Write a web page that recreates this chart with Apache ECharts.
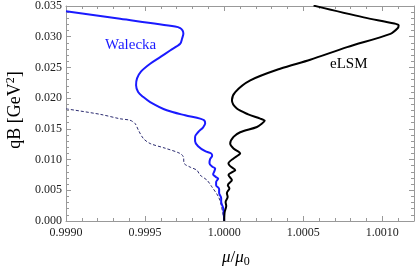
<!DOCTYPE html>
<html><head><meta charset="utf-8">
<script src="https://cdn.jsdelivr.net/npm/echarts@6/dist/echarts.min.js"></script>
<style>html,body{margin:0;padding:0;background:#fff}#c{width:415px;height:267px}</style>
</head><body><div id="c"></div>
<script>
// Walecka (solid blue): [mu/mu0, qB]
const waleckaMu = [0.99900,0.999342,0.999690,0.999722,0.999737,0.999742,0.999734,0.999722,0.999658,0.999595,0.999532,0.999475,0.999449,0.999443,0.999456,0.999487,0.999532,0.999637,0.999753,0.999848,0.999873,0.999880,0.999867,0.999835,0.999816,0.999816,0.999835,0.999880,0.999918,0.999924,0.999911,0.999907,0.999924,0.999943,0.999937,0.999930,0.999949,0.999962,0.999949,0.999949,0.999968,0.999968,0.999981,0.999981,0.999994,1.0];
const waleckaQB = [0.03414,0.03292,0.03166,0.03141,0.03101,0.03047,0.02971,0.02885,0.02776,0.02667,0.02560,0.02435,0.02321,0.02208,0.02099,0.02021,0.01937,0.01802,0.01721,0.01667,0.01640,0.01591,0.01526,0.01445,0.01369,0.01299,0.01218,0.01136,0.01099,0.01063,0.01006,0.00942,0.00885,0.00856,0.00804,0.00763,0.00714,0.00690,0.00633,0.00584,0.00519,0.00455,0.00373,0.00308,0.00211,0];
// eLSM (solid black)
const elsmMu = [1.000565,1.000882,1.001076,1.001103,1.001095,1.001051,1.000777,1.000544,1.000354,1.000165,1.000070,1.000049,1.000080,1.000152,1.000228,1.000256,1.000241,1.000207,1.000101,1.000059,1.000038,1.000059,1.000101,1.000089,1.000059,1.000027,1.000038,1.000070,1.000051,1.000027,1.000049,1.000023,1.000033,1.000017,1.000022,1.000009,1.000013,1.000003,1.0];
const elsmQB = [0.03506,0.03315,0.03214,0.03182,0.03133,0.03047,0.02830,0.02625,0.02479,0.02289,0.02099,0.01964,0.01830,0.01737,0.01667,0.01631,0.01591,0.01531,0.01445,0.01369,0.01261,0.01180,0.01099,0.01071,0.01018,0.00937,0.00893,0.00828,0.00795,0.00747,0.00666,0.00584,0.00531,0.00455,0.00390,0.00308,0.00244,0.00146,0];
// dashed curve
const dashMu = [0.99900,0.999215,0.999342,0.999405,0.999437,0.999458,0.999489,0.999532,0.999627,0.999722,0.999742,0.999747,0.999785,0.999827,0.999848,0.999891,0.999922,0.999964,0.999981,1.0];
const dashQB = [0.01826,0.01737,0.01664,0.01640,0.01586,0.01477,0.01343,0.01261,0.01185,0.01099,0.01044,0.00937,0.00877,0.00828,0.00747,0.00666,0.00557,0.00394,0.00260,0];
const xTicks = {min:0.9990, max:1.0012, interval:0.0005};
const yTicks = {min:0, max:0.035, interval:0.005};

const zip = (a,b)=>a.map((v,i)=>[v,b[i]]);
const serif = '"Liberation Serif","DejaVu Serif",serif';
const frame = '#999';
function xAx(pos, labels){
  return {type:'value', position:pos, min:xTicks.min, max:xTicks.max, interval:xTicks.interval,
    axisLine:{show:true,onZero:false,lineStyle:{color:frame,width:1}},
    axisTick:{show:true,inside:true,length:5,lineStyle:{color:frame}},
    minorTick:{show:true,splitNumber:5,length:3,lineStyle:{color:frame}},
    splitLine:{show:false},
    axisLabel:{show:labels,showMaxLabel:false,margin:6,color:'#222',fontFamily:serif,fontSize:12,
      formatter:v=>v.toFixed(4)}};
}
function yAx(pos, labels){
  return {type:'value', position:pos, min:yTicks.min, max:yTicks.max, interval:yTicks.interval,
    axisLine:{show:true,onZero:false,lineStyle:{color:frame,width:1}},
    axisTick:{show:true,inside:true,length:5,lineStyle:{color:frame}},
    minorTick:{show:true,splitNumber:5,length:3,lineStyle:{color:frame}},
    splitLine:{show:false},
    axisLabel:{show:labels,margin:4,color:'#222',fontFamily:serif,fontSize:12,
      formatter:v=>v.toFixed(3)}};
}
const chart = echarts.init(document.getElementById('c'),null,{renderer:'canvas'});
chart.setOption({
  animation:false,
  grid:{left:66,right:1,top:5,bottom:46,containLabel:false},
  xAxis:[xAx('bottom',true), xAx('top',false)],
  yAxis:[yAx('left',true), yAx('right',false)],
  series:[
    {type:'line',name:'dashed',data:zip(dashMu,dashQB),showSymbol:false,smooth:0.3,
      lineStyle:{color:'#2b2b70',width:1,type:[3,2]}},
    {type:'line',name:'Walecka',data:zip(waleckaMu,waleckaQB),showSymbol:false,smooth:0.3,
      lineStyle:{color:'#1a1aff',width:2}},
    {type:'line',name:'eLSM',data:zip(elsmMu,elsmQB),showSymbol:false,smooth:0.3,
      lineStyle:{color:'#000',width:2}}
  ],
  graphic:[
    {type:'text',left:105,top:38,style:{text:'Walecka',fill:'#1a1aff',font:'15px '+serif}},
    {type:'text',left:330,top:57,style:{text:'eLSM',fill:'#000',font:'15px '+serif}},
    {type:'text',x:15,y:110,rotation:Math.PI/2,style:{text:'{n|qB [GeV}{s|2}{n|]}',fill:'#000',align:'center',verticalAlign:'middle',
      rich:{n:{fontFamily:serif,fontSize:18},s:{fontFamily:serif,fontSize:12,padding:[0,0,8,0]}}}},
    {type:'text',x:222,y:248,style:{text:'{i|μ}{n|/}{i|μ}{s|0}',fill:'#000',
      rich:{i:{fontFamily:serif,fontStyle:'italic',fontSize:17},n:{fontFamily:serif,fontSize:17},s:{fontFamily:serif,fontSize:12,padding:[8,0,0,0]}}}}
  ]
});
</script></body></html>
